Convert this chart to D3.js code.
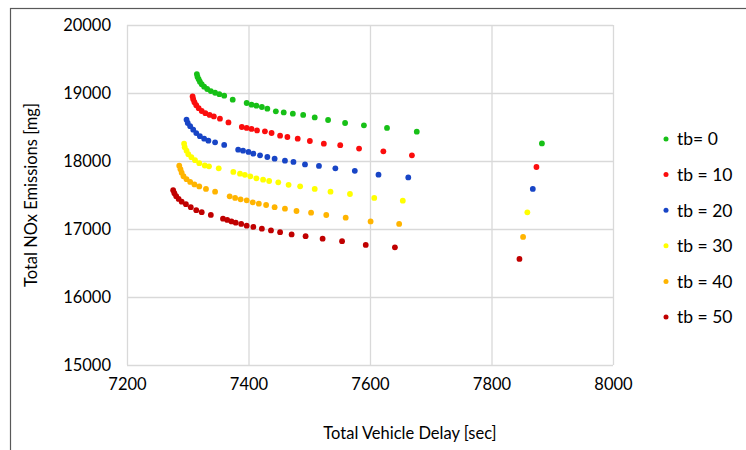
<!DOCTYPE html>
<html>
<head>
<meta charset="utf-8">
<script src="https://cdn.jsdelivr.net/npm/d3@7"></script>
<style>
  body { margin: 0; background: #fff; }
  svg { display: block; font-family: Lato, "Liberation Sans", sans-serif; }
</style>
</head>
<body>
<div id="chart"></div>
<script>
// series names and colours
const seriesNames = ['tb= 0', 'tb = 10', 'tb = 20', 'tb = 30', 'tb = 40', 'tb = 50']
const seriesColors = ['#17c017', '#fb0d0d', '#1845c6', '#ffff00', '#ffb400', '#c00000']

// total vehicle delay [sec] per series
const delay0 = [7315, 7316, 7318, 7320, 7323, 7327, 7332, 7338, 7345, 7352, 7360, 7374, 7397, 7405, 7413, 7422, 7431, 7445, 7458, 7473, 7490, 7509, 7531, 7559, 7590, 7628, 7677, 7883]
const delay10 = [7308, 7309, 7311, 7314, 7318, 7323, 7329, 7336, 7343, 7353, 7367, 7389, 7397, 7405, 7414, 7427, 7438, 7452, 7464, 7481, 7501, 7524, 7551, 7582, 7622, 7669, 7874]
const delay20 = [7298, 7300, 7304, 7309, 7314, 7320, 7327, 7334, 7345, 7360, 7383, 7391, 7400, 7408, 7419, 7431, 7443, 7460, 7474, 7493, 7516, 7543, 7575, 7614, 7663, 7868]
const delay30 = [7294, 7295, 7298, 7301, 7306, 7312, 7319, 7328, 7335, 7351, 7375, 7386, 7394, 7403, 7413, 7424, 7434, 7449, 7466, 7485, 7509, 7535, 7567, 7607, 7654, 7859]
const delay40 = [7286, 7288, 7290, 7293, 7298, 7304, 7311, 7319, 7330, 7345, 7369, 7378, 7387, 7397, 7407, 7417, 7429, 7443, 7460, 7479, 7503, 7528, 7560, 7601, 7648, 7852]
const delay50 = [7276, 7278, 7281, 7285, 7290, 7297, 7305, 7314, 7323, 7338, 7358, 7365, 7372, 7379, 7388, 7397, 7408, 7422, 7437, 7452, 7471, 7494, 7522, 7554, 7593, 7641, 7846]

// total NOx emissions [mg] per series
const nox0 = [19279, 19240, 19203, 19166, 19129, 19093, 19059, 19029, 19004, 18982, 18960, 18902, 18853, 18828, 18813, 18794, 18769, 18730, 18715, 18696, 18677, 18641, 18603, 18559, 18524, 18487, 18431, 18259]
const nox10 = [18950, 18909, 18865, 18821, 18777, 18735, 18703, 18677, 18656, 18622, 18568, 18500, 18486, 18471, 18450, 18436, 18412, 18372, 18353, 18328, 18294, 18255, 18233, 18182, 18142, 18083, 17912]
const nox20 = [18608, 18559, 18512, 18461, 18410, 18365, 18328, 18299, 18274, 18236, 18166, 18152, 18133, 18108, 18083, 18059, 18034, 18005, 17987, 17950, 17928, 17892, 17855, 17799, 17759, 17589]
const nox30 = [18255, 18203, 18152, 18100, 18056, 18012, 17968, 17934, 17921, 17892, 17839, 17814, 17796, 17774, 17745, 17726, 17706, 17686, 17649, 17627, 17589, 17549, 17515, 17457, 17417, 17245]
const nox40 = [17931, 17880, 17828, 17776, 17733, 17692, 17655, 17626, 17589, 17549, 17480, 17457, 17436, 17421, 17392, 17373, 17353, 17321, 17299, 17265, 17240, 17206, 17167, 17111, 17074, 16883]
const nox50 = [17571, 17527, 17483, 17442, 17402, 17365, 17321, 17277, 17248, 17207, 17152, 17133, 17112, 17093, 17074, 17049, 17030, 17005, 16979, 16954, 16920, 16895, 16858, 16821, 16766, 16730, 16560]

// axis ticks
const xTicks = [7200, 7400, 7600, 7800, 8000]
const yTicks = [15000, 16000, 17000, 18000, 19000, 20000]

const delays = [delay0, delay10, delay20, delay30, delay40, delay50]
const noxes = [nox0, nox10, nox20, nox30, nox40, nox50]
const series = seriesNames.map((name, i) => ({
  name: name,
  color: seriesColors[i],
  points: delays[i].map((d, j) => ({ x: d, y: noxes[i][j] }))
}))

const width = 746, height = 450
const plot = { left: 127, top: 25, right: 613, bottom: 365 }

const svg = d3.select('#chart').append('svg')
  .attr('width', width)
  .attr('height', height)

// chart frame (cropped on the right and bottom)
svg.append('rect')
  .attr('x', 10.5).attr('y', 8.5)
  .attr('width', 820).attr('height', 470)
  .attr('fill', 'none')
  .attr('stroke', '#595959')
  .attr('stroke-width', 1.2)

const x = d3.scaleLinear().domain([7200, 8000]).range([plot.left, plot.right])
const y = d3.scaleLinear().domain([15000, 20000]).range([plot.bottom, plot.top])

// gridlines + tick labels
svg.append('g')
  .attr('transform', `translate(0,${plot.bottom})`)
  .call(d3.axisBottom(x).tickValues(xTicks).tickFormat(d3.format('d'))
    .tickSize(-(plot.bottom - plot.top)).tickPadding(13))
svg.append('g')
  .attr('transform', `translate(${plot.left},0)`)
  .call(d3.axisLeft(y).tickValues(yTicks).tickFormat(d3.format('d'))
    .tickSize(-(plot.right - plot.left)).tickPadding(16))

svg.selectAll('.domain').remove()
svg.selectAll('.tick line').attr('stroke', '#d9d9d9').attr('stroke-width', 1.3)
svg.selectAll('.tick text')
  .attr('fill', '#000')
  .style('font-size', '16.5px')
  .style('font-family', 'Lato, sans-serif')

// points
series.forEach(s => {
  svg.append('g').selectAll('circle')
    .data(s.points)
    .join('circle')
    .attr('cx', d => x(d.x))
    .attr('cy', d => y(d.y))
    .attr('r', 2.9)
    .attr('fill', s.color)
})

// axis titles
svg.append('text')
  .attr('x', 410).attr('y', 439)
  .attr('text-anchor', 'middle')
  .style('font-size', '16.5px')
  .text('Total Vehicle Delay [sec]')

svg.append('text')
  .attr('transform', `translate(37,${(plot.top + plot.bottom) / 2}) rotate(-90)`)
  .attr('text-anchor', 'middle')
  .style('font-size', '16.5px')
  .text('Total NOx Emissions [mg]')

// legend
const legend = svg.append('g').attr('transform', 'translate(666,139)')
const items = legend.selectAll('g')
  .data(series)
  .join('g')
  .attr('transform', (d, i) => `translate(0,${i * 35.6})`)
items.append('circle').attr('r', 2.5).attr('fill', d => d.color)
items.append('text')
  .attr('x', 11).attr('dy', '0.36em')
  .style('font-size', '17.5px')
  .text(d => d.name)
</script>
</body>
</html>
